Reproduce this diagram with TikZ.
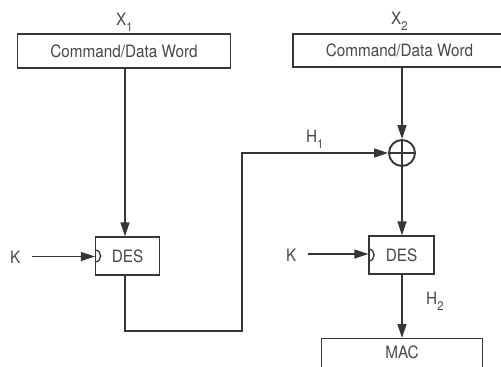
\documentclass[tikz,border=0pt]{standalone}
\usepackage{fontspec}
\setmainfont{TeX Gyre Heros}[FakeStretch=0.9]
\usetikzlibrary{arrows.meta}
\definecolor{ink}{HTML}{363636}
\definecolor{txt}{HTML}{484848}
\newcommand{\subnum}[1]{\raisebox{-6pt}{\fontsize{12.5}{12.5}\selectfont #1}}
\begin{document}
\begin{tikzpicture}[x=1pt,y=-1pt,
  every node/.style={font=\fontsize{17}{20}\selectfont, text=txt},
  blk/.style={draw=ink, line width=1.1pt, inner sep=0pt},
  wire/.style={draw=ink, line width=1.3pt},
  arr/.style={wire, -{Triangle[length=14pt,width=9pt]}},
  lbl/.style={anchor=base west, inner sep=0pt},
  xorc/.style={circle, draw=ink, line width=1.9pt, minimum size=26pt, inner sep=0pt},
]
\clip (0,0) rectangle (501,367);
\fill[white] (0,0) rectangle (501,367);
% blocks
\node[blk, minimum width=213pt, minimum height=34pt] (box1) at (124,51) {Command/Data Word};
\node[blk, minimum width=213pt, minimum height=33pt] (box2) at (399.5,50.5) {Command/Data Word};
\node[blk, minimum width=64pt, minimum height=38pt] (des1) at (127.5,256) {DES};
\node[blk, minimum width=65pt, minimum height=38pt] (des2) at (401.5,255) {DES};
\node[blk, anchor=north, minimum width=161pt, inner ysep=7pt, text height=13pt, text depth=22pt] (mac) at (402,338) {MAC};
\node[xorc] (xor) at (402,153) {};
\draw[ink, line width=1.9pt] (xor.north) -- (xor.south) (xor.west) -- (xor.east);
% labels
\node[lbl] (x1) at (116,25) {X\subnum{1}};
\node[lbl] (x2) at (391,24) {X\subnum{2}};
\node[lbl] (h1) at (306,142) {H\subnum{1}};
\node[lbl] (h2) at (426,304) {H\subnum{2}};
\node[lbl] (k1) at (10,263) {K};
\node[lbl] (k2) at (286,261) {K};
% helper coordinates
\coordinate (c1) at (125,331);
\coordinate (c2) at (242,331);
\coordinate (ks1) at (32,256.5);
\coordinate (ks2) at (308,254);
% connectors
\draw[arr] (box1.south -| c1) -- (des1.north -| c1);
\draw[arr] (ks1) -- (ks1 -| des1.west);
\draw[arr] (ks2) -- (ks2 -| des2.west);
\draw[wire] ([yshift=-6pt]des1.west) .. controls +(7.5,0) and +(7.5,0) .. ([yshift=6pt]des1.west);
\draw[wire] ([yshift=-6pt]des2.west) .. controls +(7.5,0) and +(7.5,0) .. ([yshift=6pt]des2.west);
\draw[arr] (des1.south -| c1) -- (c1) -- (c2) |- (xor.west);
\draw[arr] (box2.south -| xor.north) -- (xor.north);
\draw[arr] (xor.south) -- (des2.north -| xor.south);
\draw[arr] (des2.south -| xor.south) -- (mac.north -| xor.south);
\end{tikzpicture}
\end{document}
